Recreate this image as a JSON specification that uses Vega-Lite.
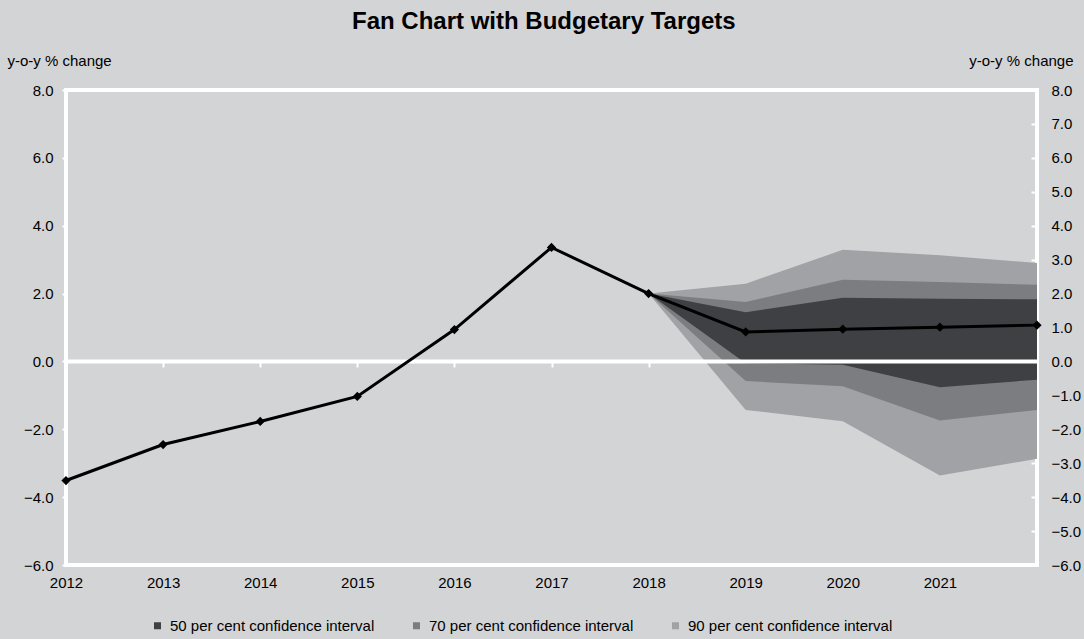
{
  "$schema": "https://vega.github.io/schema/vega-lite/v6.json",
  "autosize": "none",
  "width": 971,
  "height": 475,
  "padding": {"left": 66, "top": 90, "right": 47, "bottom": 74},
  "background": "#d3d4d6",
  "title": {
    "text": "Fan Chart with Budgetary Targets",
    "font": "Liberation Sans",
    "fontSize": 24,
    "fontWeight": "bold",
    "color": "#000000",
    "anchor": "middle",
    "frame": "bounds",
    "baseline": "alphabetic",
    "offset": 0,
    "dx": 0
  },
  "config": {
    "font": "Liberation Sans",
    "view": {"stroke": "white", "strokeWidth": 4, "fill": "#d3d4d6"},
    "axis": {"labelFont": "Liberation Sans", "labelFontSize": 15, "labelColor": "#000000", "titleFont": "Liberation Sans", "titleFontSize": 15, "titleFontWeight": "normal", "titleColor": "#000000", "grid": false}
  },
  "datasets": {
    "line": [
      {"year": 2012, "value": -3.51},
      {"year": 2013, "value": -2.45},
      {"year": 2014, "value": -1.77},
      {"year": 2015, "value": -1.03},
      {"year": 2016, "value": 0.94},
      {"year": 2017, "value": 3.36},
      {"year": 2018, "value": 2.0},
      {"year": 2019, "value": 0.87},
      {"year": 2020, "value": 0.95},
      {"year": 2021, "value": 1.01},
      {"year": 2022, "value": 1.07}
    ],
    "bands": [
      {"year": 2018, "band": "50 per cent confidence interval", "lo": 2.0, "hi": 2.0},
      {"year": 2019, "band": "50 per cent confidence interval", "lo": -0.05, "hi": 1.45},
      {"year": 2020, "band": "50 per cent confidence interval", "lo": -0.1, "hi": 1.88},
      {"year": 2021, "band": "50 per cent confidence interval", "lo": -0.76, "hi": 1.85},
      {"year": 2022, "band": "50 per cent confidence interval", "lo": -0.54, "hi": 1.83},
      {"year": 2018, "band": "70 per cent confidence interval", "lo": 2.0, "hi": 2.0},
      {"year": 2019, "band": "70 per cent confidence interval", "lo": -0.58, "hi": 1.75},
      {"year": 2020, "band": "70 per cent confidence interval", "lo": -0.73, "hi": 2.41},
      {"year": 2021, "band": "70 per cent confidence interval", "lo": -1.74, "hi": 2.34},
      {"year": 2022, "band": "70 per cent confidence interval", "lo": -1.43, "hi": 2.26},
      {"year": 2018, "band": "90 per cent confidence interval", "lo": 2.0, "hi": 2.0},
      {"year": 2019, "band": "90 per cent confidence interval", "lo": -1.43, "hi": 2.29},
      {"year": 2020, "band": "90 per cent confidence interval", "lo": -1.76, "hi": 3.29},
      {"year": 2021, "band": "90 per cent confidence interval", "lo": -3.36, "hi": 3.13},
      {"year": 2022, "band": "90 per cent confidence interval", "lo": -2.87, "hi": 2.9}
    ]
  },
  "resolve": {"axis": {"y": "independent", "x": "independent"}},
  "layer": [
    {
      "data": {"name": "bands"},
      "transform": [{"filter": "datum.band === '90 per cent confidence interval'"}],
      "mark": {"type": "area", "opacity": 1},
      "encoding": {
        "x": {"field": "year", "type": "quantitative", "scale": {"domain": [2012, 2022], "nice": false, "zero": false},
              "axis": {"orient": "bottom", "values": [2012, 2013, 2014, 2015, 2016, 2017, 2018, 2019, 2020, 2021], "format": "d", "domain": false, "ticks": false, "labelPadding": 10, "labelFlush": false, "title": null}},
        "y": {"field": "lo", "type": "quantitative", "scale": {"domain": [-6, 8], "nice": false, "zero": false},
              "axis": {"orient": "left", "values": [-6, -4, -2, 0, 2, 4, 6, 8], "format": ".1f", "domain": false, "ticks": true, "tickColor": "white", "tickSize": 4, "tickWidth": 2, "labelPadding": 9, "labelFlush": false,
                       "title": "y-o-y % change", "titleAngle": 0, "titleAlign": "left", "titleBaseline": "alphabetic", "titleX": -59, "titleY": -25}},
        "y2": {"field": "hi"},
        "color": {"field": "band", "type": "nominal",
                  "scale": {"domain": ["50 per cent confidence interval", "70 per cent confidence interval", "90 per cent confidence interval"], "range": ["#3f4044", "#7c7d81", "#a0a2a6"]},
                  "legend": {"title": null, "orient": "none", "direction": "horizontal", "legendX": 84, "legendY": 528, "padding": 0,
                             "symbolType": "square", "symbolSize": 49, "symbolStrokeWidth": 0, "labelFont": "Liberation Sans", "labelFontSize": 15, "labelColor": "#000000", "labelOffset": 5, "labelLimit": 0, "columnPadding": 34}}
      }
    },
    {
      "data": {"name": "bands"},
      "transform": [{"filter": "datum.band === '70 per cent confidence interval'"}],
      "mark": {"type": "area", "opacity": 1},
      "encoding": {
        "x": {"field": "year", "type": "quantitative", "axis": null},
        "y": {"field": "lo", "type": "quantitative", "axis": null},
        "y2": {"field": "hi"},
        "color": {"field": "band", "type": "nominal"}
      }
    },
    {
      "data": {"name": "bands"},
      "transform": [{"filter": "datum.band === '50 per cent confidence interval'"}],
      "mark": {"type": "area", "opacity": 1},
      "encoding": {
        "x": {"field": "year", "type": "quantitative", "axis": null},
        "y": {"field": "lo", "type": "quantitative", "axis": null},
        "y2": {"field": "hi"},
        "color": {"field": "band", "type": "nominal"}
      }
    },
    {
      "data": {"values": [{}]},
      "mark": {"type": "rule", "color": "white", "strokeWidth": 4},
      "encoding": {
        "y": {"datum": 0, "type": "quantitative",
              "axis": {"orient": "right", "values": [-6, -5, -4, -3, -2, -1, 0, 1, 2, 3, 4, 5, 6, 7, 8], "format": ".1f", "domain": false, "ticks": true, "tickColor": "white", "tickSize": -6, "tickWidth": 2, "labelPadding": 20, "labelFlush": false,
                       "title": "y-o-y % change", "titleAngle": 0, "titleAlign": "right", "titleBaseline": "alphabetic", "titleX": 36, "titleY": -25}}
      }
    },
    {
      "data": {"name": "line"},
      "mark": {"type": "line", "color": "#000000", "strokeWidth": 3},
      "encoding": {
        "x": {"field": "year", "type": "quantitative",
              "axis": {"orient": "bottom", "offset": -204, "values": [2012, 2013, 2014, 2015, 2016, 2017, 2018, 2019, 2020, 2021, 2022], "labels": false, "domain": false, "ticks": true, "tickColor": "white", "tickSize": 6, "tickWidth": 2, "title": null}},
        "y": {"field": "value", "type": "quantitative", "axis": null}
      }
    },
    {
      "data": {"name": "line"},
      "mark": {"type": "point", "shape": "diamond", "filled": true, "color": "#000000", "size": 85, "opacity": 1},
      "encoding": {
        "x": {"field": "year", "type": "quantitative", "axis": null},
        "y": {"field": "value", "type": "quantitative", "axis": null}
      }
    }
  ]
}
